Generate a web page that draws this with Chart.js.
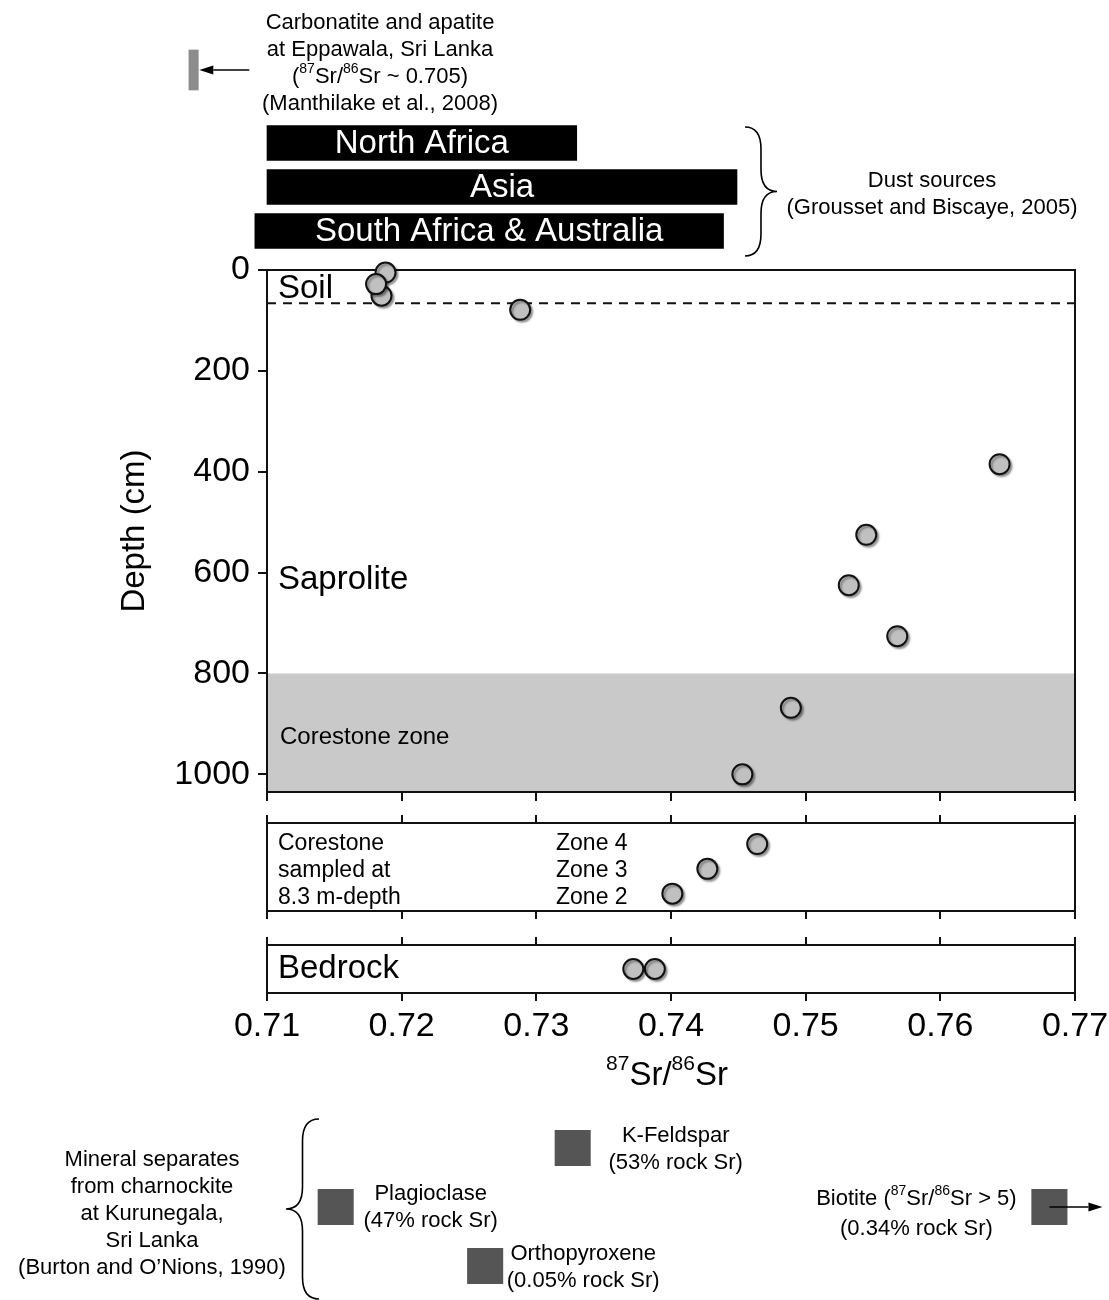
<!DOCTYPE html>
<html>
<head>
<meta charset="utf-8">
<script src="https://cdn.jsdelivr.net/npm/chart.js@4.4.1/dist/chart.umd.min.js"></script>
<style>
  html, body { margin: 0; padding: 0; background: #fff; }
  #page { position: relative; width: 1109px; height: 1300px; overflow: hidden; }
  #page canvas { position: absolute; left: 0; }
</style>
</head>
<body>
<div id="page">
  <canvas id="carb"></canvas>
  <canvas id="dust"></canvas>
  <canvas id="main"></canvas>
  <canvas id="core"></canvas>
  <canvas id="bed"></canvas>
  <canvas id="mins"></canvas>
</div>
<script>
// ---- data ----
const xMin = 0.71, xMax = 0.77;
const srTicks = [0.71, 0.72, 0.73, 0.74, 0.75, 0.76, 0.77];
const depthTicks = [0, 200, 400, 600, 800, 1000];

const carbonatiteRange = [0.7042, 0.7049];
const dustSources = ['North Africa', 'Asia', 'South Africa & Australia'];
const dustRanges = [[0.7100, 0.7330], [0.7100, 0.7449], [0.7091, 0.7439]];

const profileDepth = [51, 5, 28, 79, 385, 525, 625, 726, 868, 1000];
const profileSr = [0.7185, 0.7188, 0.7181, 0.7288, 0.7644, 0.7545, 0.7532, 0.7568, 0.7489, 0.7453];
const soilBase = 66;
const corestoneTop = 800;
const maxDepth = 1035;

const zones = [4, 3, 2];
const zoneSr = [0.7464, 0.7427, 0.7401];

const bedrockSr = [0.7388, 0.7372];

const minerals = ['K-Feldspar', 'Plagioclase', 'Orthopyroxene', 'Biotite'];
const mineralSr = [0.7327, 0.7151, 0.7262, 0.7681];
const mineralShare = ['53% rock Sr', '47% rock Sr', '0.05% rock Sr', '0.34% rock Sr'];

// ---- layout ----
const FONT = '"Liberation Sans", Arial, Helvetica, sans-serif';
const W = 1109, PL = 267, PR = 1075;
const pxPerUnit = (PR - PL) / (xMax - xMin);
const wideMin = xMin - PL / pxPerUnit;
const wideMax = xMax + (W - PR) / pxPerUnit;
const BIG = 33, TICK = 34, SMALL = 22;

Chart.defaults.font.family = FONT;
Chart.defaults.color = '#000';
Chart.defaults.animation = false;
Chart.defaults.responsive = false;
Chart.defaults.events = [];
Chart.defaults.layout.autoPadding = false;
Chart.defaults.plugins.legend.display = false;
Chart.defaults.plugins.tooltip.enabled = false;

function mk(id, top, height) {
  const c = document.getElementById(id);
  c.width = W; c.height = height; c.style.top = top + 'px';
  return c;
}

// text with ^{sup} markup
function txt(ctx, s, x, y, size, align = 'center', color = '#000') {
  const parts = s.split(/\^\{([^}]*)\}/);
  const sup = Math.round(size * 0.64);
  const ws = [];
  let total = 0;
  parts.forEach((p, i) => {
    ctx.font = (i % 2 ? sup : size) + 'px ' + FONT;
    const w = ctx.measureText(p).width;
    ws.push(w); total += w;
  });
  let cx = align === 'center' ? x - total / 2 : align === 'right' ? x - total : x;
  ctx.save();
  ctx.fillStyle = color; ctx.textAlign = 'left'; ctx.textBaseline = 'middle';
  parts.forEach((p, i) => {
    ctx.font = (i % 2 ? sup : size) + 'px ' + FONT;
    ctx.fillText(p, cx, i % 2 ? y - size * 0.36 : y);
    cx += ws[i];
  });
  ctx.restore();
}

function arrow(ctx, x1, y, x2) {
  const d = Math.sign(x2 - x1), hl = 14, hw = 4.5;
  ctx.save();
  ctx.strokeStyle = '#000'; ctx.fillStyle = '#000'; ctx.lineWidth = 1.5;
  ctx.beginPath(); ctx.moveTo(x1, y); ctx.lineTo(x2 - d * hl, y); ctx.stroke();
  ctx.beginPath(); ctx.moveTo(x2, y); ctx.lineTo(x2 - d * hl, y - hw); ctx.lineTo(x2 - d * hl, y + hw);
  ctx.closePath(); ctx.fill();
  ctx.restore();
}

function brace(ctx, xs, xt, yT, yB) {
  const xm = (xs + xt) / 2, ym = (yT + yB) / 2, r = 22;
  ctx.save();
  ctx.strokeStyle = '#000'; ctx.lineWidth = 1.6;
  ctx.beginPath();
  ctx.moveTo(xs, yT);
  ctx.quadraticCurveTo(xm, yT, xm, yT + r);
  ctx.lineTo(xm, ym - r);
  ctx.quadraticCurveTo(xm, ym, xt, ym);
  ctx.quadraticCurveTo(xm, ym, xm, ym + r);
  ctx.lineTo(xm, yB - r);
  ctx.quadraticCurveTo(xm, yB, xs, yB);
  ctx.stroke();
  ctx.restore();
}

function frame(ctx, a) {
  ctx.save();
  ctx.strokeStyle = '#111'; ctx.lineWidth = 2;
  ctx.strokeRect(a.left, a.top, a.right - a.left, a.bottom - a.top);
  ctx.restore();
}

const shadow = {
  id: 'shadow',
  beforeDatasetsDraw(chart) {
    const ctx = chart.ctx;
    ctx.save();
    ctx.shadowColor = 'rgba(0,0,0,0.35)';
    ctx.shadowOffsetX = 2; ctx.shadowOffsetY = 2; ctx.shadowBlur = 2;
  },
  afterDatasetsDraw(chart) { chart.ctx.restore(); }
};

const srAxis = (position, extra = {}) => Object.assign({
  type: 'linear', position, min: xMin, max: xMax,
  afterBuildTicks: s => { s.ticks = srTicks.map(v => ({ value: v })); },
  ticks: { display: false },
  grid: { drawOnChartArea: false, tickLength: 8, color: '#111', lineWidth: 2 },
  border: { display: false },
  afterFit: s => { s.height = 8; }
}, extra);

const circleStyle = {
  pointRadius: 10, pointHoverRadius: 10, backgroundColor: '#c0c0c0',
  borderColor: '#111', borderWidth: 2, clip: false
};

// ---- carbonatite ----
new Chart(mk('carb', 0, 120), {
  type: 'bar',
  data: { labels: ['Carbonatite'], datasets: [{ data: [carbonatiteRange], backgroundColor: '#8c8c8c', barThickness: 40 }] },
  options: {
    indexAxis: 'y',
    layout: { padding: { top: 30, bottom: 10, left: 0, right: 0 } },
    scales: { x: { type: 'linear', min: wideMin, max: wideMax, display: false }, y: { display: false } }
  },
  plugins: [{
    id: 'carbDecor',
    afterDatasetsDraw(chart) {
      const ctx = chart.ctx;
      const bar = chart.getDatasetMeta(0).data[0];
      const right = Math.max(bar.x, bar.base);
      arrow(ctx, right + 51, bar.y, right + 1);
      txt(ctx, 'Carbonatite and apatite', 380, 23, SMALL);
      txt(ctx, 'at Eppawala, Sri Lanka', 380, 50, SMALL);
      txt(ctx, '(^{87}Sr/^{86}Sr ~ 0.705)', 380, 77, SMALL);
      txt(ctx, '(Manthilake et al., 2008)', 380, 104, SMALL);
    }
  }]
});

// ---- dust sources ----
new Chart(mk('dust', 120, 142), {
  type: 'bar',
  data: { labels: dustSources, datasets: [{ data: dustRanges, backgroundColor: '#000', barThickness: 35 }] },
  options: {
    indexAxis: 'y',
    layout: { padding: { top: 1, bottom: 9, left: 0, right: 0 } },
    scales: { x: { type: 'linear', min: wideMin, max: wideMax, display: false }, y: { display: false } }
  },
  plugins: [{
    id: 'dustDecor',
    afterDatasetsDraw(chart) {
      const ctx = chart.ctx;
      let maxEnd = 0;
      chart.getDatasetMeta(0).data.forEach((el, i) => {
        txt(ctx, dustSources[i], (el.x + el.base) / 2, el.y + 1, BIG, 'center', '#fff');
        maxEnd = Math.max(maxEnd, el.x);
      });
      brace(ctx, maxEnd + 8, maxEnd + 40, 7, 136);
      txt(ctx, 'Dust sources', 932, 61, SMALL);
      txt(ctx, '(Grousset and Biscaye, 2005)', 932, 88, SMALL);
    }
  }]
});

// ---- weathering profile ----
new Chart(mk('main', 241, 581), {
  type: 'scatter',
  data: { datasets: [Object.assign({ data: profileSr.map((x, i) => ({ x, y: profileDepth[i] })) }, circleStyle)] },
  options: {
    layout: { padding: { left: 0, right: W - PR, top: 29, bottom: 20 } },
    scales: {
      x: srAxis('bottom', {
        grid: { drawOnChartArea: false, tickLength: 9, color: '#111', lineWidth: 2 },
        afterFit: s => { s.height = 10; }
      }),
      y: {
        type: 'linear', reverse: true, min: 0, max: maxDepth,
        afterBuildTicks: s => { s.ticks = depthTicks.map(v => ({ value: v })); },
        ticks: { font: { size: TICK }, color: '#000', padding: 8, callback: v => String(v) },
        grid: { drawOnChartArea: false, tickLength: 9, color: '#111', lineWidth: 2 },
        border: { color: '#111', width: 2 },
        title: { display: true, text: 'Depth (cm)', font: { size: BIG }, color: '#000', padding: { top: 115, bottom: 0 } },
        afterFit: s => { s.width = PL; }
      }
    }
  },
  plugins: [{
    id: 'mainDecor',
    beforeDatasetsDraw(chart) {
      const { ctx, chartArea: a, scales: { y } } = chart;
      ctx.save();
      const yc = y.getPixelForValue(corestoneTop);
      ctx.fillStyle = '#c9c9c9';
      ctx.fillRect(a.left, yc, a.right - a.left, a.bottom - yc);
      const ys = y.getPixelForValue(soilBase);
      ctx.strokeStyle = '#111'; ctx.lineWidth = 2; ctx.setLineDash([9, 7]);
      ctx.beginPath(); ctx.moveTo(a.left, ys); ctx.lineTo(a.right, ys); ctx.stroke();
      ctx.restore();
      frame(ctx, a);
      txt(ctx, 'Soil', a.left + 11, y.getPixelForValue(38), BIG, 'left');
      txt(ctx, 'Saprolite', a.left + 11, y.getPixelForValue(614), BIG, 'left');
      txt(ctx, 'Corestone zone', a.left + 13, y.getPixelForValue(927), 24, 'left');
    }
  }, shadow]
});

// ---- corestone ----
new Chart(mk('core', 813, 108), {
  type: 'scatter',
  data: { datasets: [Object.assign({ data: zoneSr.map((x, i) => ({ x, y: zones[i] })) }, circleStyle)] },
  options: {
    layout: { padding: { left: PL, right: W - PR, top: 2, bottom: 2 } },
    scales: {
      x: srAxis('bottom'),
      x2: srAxis('top'),
      y: { type: 'linear', display: false, min: 1.3, max: 4.85 }
    }
  },
  plugins: [{
    id: 'coreDecor',
    beforeDatasetsDraw(chart) {
      const { ctx, chartArea: a } = chart;
      frame(ctx, a);
      const rows = [a.top + 21, a.top + 48, a.top + 75];
      ['Corestone', 'sampled at', '8.3 m-depth'].forEach((s, i) => txt(ctx, s, a.left + 11, rows[i], 23, 'left'));
      zones.forEach((z, i) => txt(ctx, 'Zone ' + z, a.left + 289, rows[i], 23, 'left'));
    }
  }, shadow]
});

// ---- bedrock ----
new Chart(mk('bed', 935, 165), {
  type: 'scatter',
  data: { datasets: [Object.assign({ data: bedrockSr.map(x => ({ x, y: 0 })) }, circleStyle)] },
  options: {
    layout: { padding: { left: PL, right: W - PR, top: 2, bottom: 47 } },
    scales: {
      x: srAxis('bottom', {
        ticks: { display: true, font: { size: TICK }, color: '#000', padding: 5, maxRotation: 0, autoSkip: false, callback: v => v.toFixed(2) },
        afterFit: s => { s.height = 60; s.paddingLeft = 0; s.paddingRight = 0; }
      }),
      x2: srAxis('top'),
      y: { type: 'linear', display: false, min: -1, max: 1 }
    }
  },
  plugins: [{
    id: 'bedDecor',
    beforeDatasetsDraw(chart) {
      const { ctx, chartArea: a } = chart;
      frame(ctx, a);
      txt(ctx, 'Bedrock', a.left + 11, (a.top + a.bottom) / 2, BIG, 'left');
      txt(ctx, '^{87}Sr/^{86}Sr', (a.left + a.right) / 2 - 4, a.bottom + 83, BIG);
    }
  }, shadow]
});

// ---- mineral separates ----
const rowOf = { 'K-Feldspar': 'upper', 'Plagioclase': 'middle', 'Orthopyroxene': 'lower', 'Biotite': 'middle' };
const labelAt = { 'K-Feldspar': [103, -12, 15], 'Plagioclase': [95, -13, 14], 'Orthopyroxene': [98, -12, 15], 'Biotite': [-133, -8, 22] };
new Chart(mk('mins', 1100, 200), {
  type: 'scatter',
  data: { datasets: [{
    data: mineralSr.map((x, i) => ({ x, y: rowOf[minerals[i]] })),
    pointStyle: 'rect', pointRadius: 25.5, pointHoverRadius: 25.5,
    backgroundColor: '#555', borderWidth: 0, clip: false
  }] },
  options: {
    layout: { padding: { left: PL, right: W - PR, top: 18.5, bottom: 4.5 } },
    scales: {
      x: { type: 'linear', min: xMin, max: xMax, display: false },
      y: { type: 'category', labels: ['upper', 'middle', 'lower'], offset: true, display: false }
    }
  },
  plugins: [{
    id: 'minsDecor',
    afterDatasetsDraw(chart) {
      const ctx = chart.ctx;
      chart.getDatasetMeta(0).data.forEach((el, i) => {
        const name = minerals[i];
        const [dx, d1, d2] = labelAt[name];
        const head = name === 'Biotite' ? 'Biotite (^{87}Sr/^{86}Sr > 5)' : name;
        txt(ctx, head, el.x + dx, el.y + d1, SMALL);
        txt(ctx, '(' + mineralShare[i] + ')', el.x + dx, el.y + d2, SMALL);
        if (name === 'Biotite') arrow(ctx, el.x, el.y, el.x + 53);
      });
      brace(ctx, 319, 286, 19, 199);
      ['Mineral separates', 'from charnockite', 'at Kurunegala,', 'Sri Lanka', '(Burton and O\u2019Nions, 1990)']
        .forEach((s, i) => txt(ctx, s, 152, 60 + i * 27, SMALL));
    }
  }]
});
</script>
</body>
</html>
